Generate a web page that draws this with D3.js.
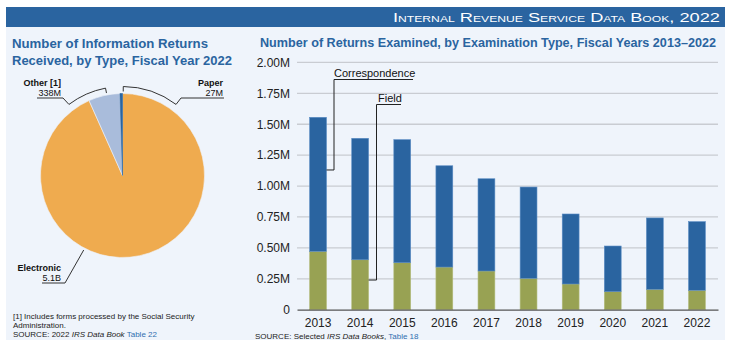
<!DOCTYPE html>
<html><head><meta charset="utf-8">
<script src="https://cdn.jsdelivr.net/npm/d3@7"></script>
<style>
html,body{margin:0;padding:0;background:#fff;}
svg{display:block;font-family:"Liberation Sans",Arial,Helvetica,sans-serif;}
</style></head>
<body><svg id="c" width="730" height="354"></svg>
<script>
// ---- data ----
const pieLabels = ["Electronic", "Other [1]", "Paper"];
const pieValues = [5100, 338, 27];           // millions
const pieValueText = ["5.1B", "338M", "27M"];
const years = ["2013","2014","2015","2016","2017","2018","2019","2020","2021","2022"];
const field = [0.472,0.404,0.380,0.345,0.313,0.254,0.208,0.146,0.165,0.157];          // millions
const correspondence = [1.084,0.982,0.995,0.819,0.746,0.738,0.566,0.369,0.577,0.555]; // millions
const yTicks = [0,0.25,0.5,0.75,1.0,1.25,1.5,1.75,2.0];

const BLUE = "#2a64a0", OLIVE = "#98a253", ORANGE = "#efab4f", LIGHTBLUE = "#a9bcdb";
const svg = d3.select("#c");

// background panel + header
svg.append("rect").attr("x",6).attr("y",27).attr("width",719).attr("height",313).attr("fill","#eff4fb");
svg.append("rect").attr("x",6).attr("y",7).attr("width",719).attr("height",20).attr("fill",BLUE);
svg.append("text").attr("x",720).attr("y",22).attr("text-anchor","end")
  .attr("fill","#fff").style("font-size","13.5px").style("font-variant","small-caps")
  .attr("textLength",327).attr("lengthAdjust","spacingAndGlyphs")
  .text("Internal Revenue Service Data Book, 2022");

// titles
const t1 = svg.append("g").attr("fill",BLUE).style("font-weight","bold");
t1.append("text").attr("x",12).attr("y",48).style("font-size","13.5px").attr("textLength",196).attr("lengthAdjust","spacingAndGlyphs").text("Number of Information Returns");
t1.append("text").attr("x",12).attr("y",65).style("font-size","13.5px").attr("textLength",220).attr("lengthAdjust","spacingAndGlyphs").text("Received, by Type, Fiscal Year 2022");
t1.append("text").attr("x",260).attr("y",47).style("font-size","12.6px").attr("textLength",456).attr("lengthAdjust","spacingAndGlyphs").text("Number of Returns Examined, by Examination Type, Fiscal Years 2013\u20132022");

// ---- pie ----
const cx = 122.5, cy = 175.5, R = 82;
const pie = d3.pie().sort(null).startAngle(0).endAngle(2*Math.PI);
const arcs = pie(pieValues);
const arcGen = d3.arc().innerRadius(0).outerRadius(R);
const pg = svg.append("g").attr("transform",`translate(${cx},${cy})`);
pg.selectAll("path").data(arcs).join("path")
  .attr("d",arcGen)
  .attr("fill",(d,i)=>[ORANGE,LIGHTBLUE,BLUE][i])
  .attr("stroke",(d,i)=>i===2?BLUE:"#eef2f8").attr("stroke-width",0.6);

// callout brackets
const deg = Math.PI/180;
function pt(r,a){return [r*Math.sin(a), -r*Math.cos(a)];}
const br = 89;
function bracket(a0,a1,tickAt){
  const p = d3.path();
  p.arc(0,0,br,a0-Math.PI/2,a1-Math.PI/2,false);
  pg.append("path").attr("d",p.toString())
    .attr("fill","none").attr("stroke","#333").attr("stroke-width",1);
  const t0 = pt(br,tickAt), t1p = pt(R+2,tickAt);
  pg.append("line").attr("x1",t0[0]).attr("y1",t0[1]).attr("x2",t1p[0]).attr("y2",t1p[1])
    .attr("stroke","#333").attr("stroke-width",1);
}
bracket(-37*deg,-11*deg,-11*deg);   // Other
bracket(0.5*deg,37*deg,0.5*deg);    // Paper

const lab = svg.append("g").style("font-size","9px").attr("fill","#111");
lab.append("text").attr("x",61).attr("y",86).attr("text-anchor","end").style("font-weight","bold").text(pieLabels[1]);
lab.append("text").attr("x",61).attr("y",96).attr("text-anchor","end").text(pieValueText[1]);
{
  const v = pt(br,-37*deg);
  svg.append("polyline").attr("points",`37,98 63,98 ${cx+v[0]},${cy+v[1]}`)
    .attr("fill","none").attr("stroke","#333").attr("stroke-width",1);
}
lab.append("text").attr("x",223).attr("y",86).attr("text-anchor","end").style("font-weight","bold").text(pieLabels[2]);
lab.append("text").attr("x",223).attr("y",96).attr("text-anchor","end").text(pieValueText[2]);
{
  const v = pt(br,37*deg);
  svg.append("polyline").attr("points",`224,98 181,98 ${cx+v[0]},${cy+v[1]}`)
    .attr("fill","none").attr("stroke","#333").attr("stroke-width",1);
}
lab.append("text").attr("x",61).attr("y",271).attr("text-anchor","end").style("font-weight","bold").text(pieLabels[0]);
lab.append("text").attr("x",61).attr("y",281).attr("text-anchor","end").text(pieValueText[0]);
{
  const v = pt(R+2,207.5*deg);
  svg.append("polyline").attr("points",`42,283 65,283 ${cx+v[0]},${cy+v[1]}`)
    .attr("fill","none").attr("stroke","#333").attr("stroke-width",1);
}

// footnotes left
const fn = svg.append("g").style("font-size","8px").attr("fill","#222");
fn.append("text").attr("x",13).attr("y",319).text("[1] Includes forms processed by the Social Security");
fn.append("text").attr("x",13).attr("y",328).text("Administration.");
const s1 = fn.append("text").attr("x",13).attr("y",337);
s1.append("tspan").text("SOURCE: 2022 ");
s1.append("tspan").style("font-style","italic").text("IRS Data Book");
s1.append("tspan").attr("fill","#2f6fb0").text(" Table 22");

// ---- bar chart ----
const x = d3.scaleBand().domain(years).range([297,718]).paddingInner(0.6).paddingOuter(0.3);
const y = d3.scaleLinear().domain([0,2]).range([309.7,62.4]);

const grid = svg.append("g");
grid.selectAll("line").data(yTicks.slice(1)).join("line")
  .attr("x1",297).attr("x2",718).attr("y1",d=>y(d)).attr("y2",d=>y(d))
  .attr("stroke","#c9ccd2").attr("stroke-width",1.3);

const yAxis = svg.append("g").attr("transform","translate(297,0)")
  .call(d3.axisLeft(y).tickValues(yTicks).tickSize(0).tickPadding(7)
    .tickFormat(d=>d===0?"0":d3.format(".2f")(d)+"M"));
yAxis.select(".domain").remove();
yAxis.selectAll("text").style("font-size","12px").attr("fill","#222").style("font-family","'Liberation Sans',Arial,sans-serif");

const bars = svg.append("g");
bars.selectAll("rect.f").data(years).join("rect").attr("class","f")
  .attr("x",d=>x(d)).attr("width",x.bandwidth())
  .attr("y",(d,i)=>y(field[i])).attr("height",(d,i)=>y(0)-y(field[i]))
  .attr("fill",OLIVE).attr("stroke","#b3bb7c").attr("stroke-width",0.6);
bars.selectAll("rect.c").data(years).join("rect").attr("class","c")
  .attr("x",d=>x(d)).attr("width",x.bandwidth())
  .attr("y",(d,i)=>y(field[i]+correspondence[i])).attr("height",(d,i)=>y(field[i])-y(field[i]+correspondence[i]))
  .attr("fill",BLUE).attr("stroke","#5a8cc4").attr("stroke-width",0.6);

const xAxis = svg.append("g").attr("transform",`translate(0,${y(0)})`)
  .call(d3.axisBottom(x).tickSize(0).tickPadding(9));
xAxis.select(".domain").attr("stroke","#555").attr("stroke-width",1.3);
xAxis.selectAll("text").style("font-size","12px").attr("fill","#222").style("font-family","'Liberation Sans',Arial,sans-serif");

// series annotations
const ann = svg.append("g").style("font-size","11px").attr("fill","#111");
ann.append("text").attr("x",334).attr("y",77).text("Correspondence");
const x13 = x(years[0])+x.bandwidth();
svg.append("polyline").attr("points",`413,79.5 334,79.5 334,${y(1.13)} ${x13},${y(1.13)}`)
  .attr("fill","none").attr("stroke","#222").attr("stroke-width",1);
ann.append("text").attr("x",378).attr("y",102).text("Field");
const x14 = x(years[1])+x.bandwidth();
svg.append("polyline").attr("points",`401,104.5 376.5,104.5 376.5,${y(0.24)} ${x14},${y(0.24)}`)
  .attr("fill","none").attr("stroke","#222").attr("stroke-width",1);

// footnote right
const s2 = svg.append("text").attr("x",255).attr("y",339).style("font-size","8px").attr("fill","#222");
s2.append("tspan").text("SOURCE: Selected ");
s2.append("tspan").style("font-style","italic").text("IRS Data Books");
s2.append("tspan").text(", ");
s2.append("tspan").attr("fill","#2f6fb0").text("Table 18");
</script></body></html>
